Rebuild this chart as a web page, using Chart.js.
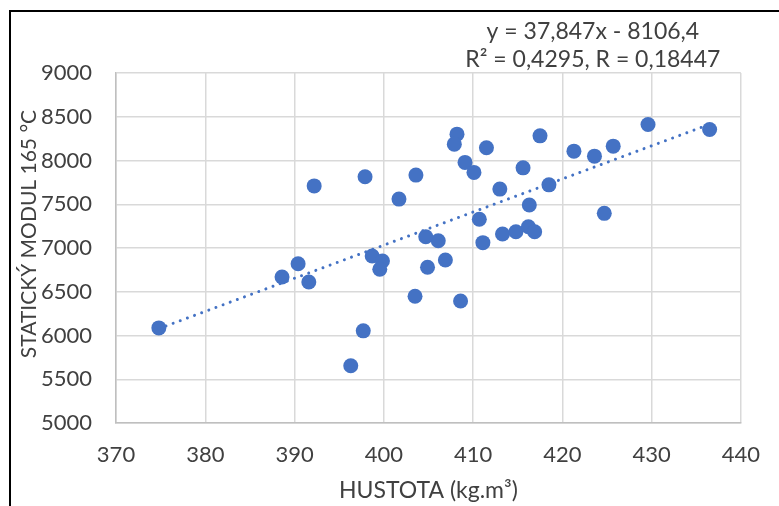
<!DOCTYPE html>
<html>
<head>
<meta charset="utf-8">
<script src="https://cdn.jsdelivr.net/npm/chart.js@4/dist/chart.umd.min.js"></script>
<style>
  html, body { margin: 0; padding: 0; background: #ffffff; overflow: hidden; }
  #wrap { position: relative; width: 779px; height: 506px; }
  #c { position: absolute; left: 0; top: 0; }
  #frame { position: absolute; left: 9px; top: 10px; width: 800px; height: 520px;
           border: 2px solid #000; box-sizing: border-box; pointer-events: none; }
</style>
</head>
<body>
<div id="wrap">
  <canvas id="c" width="779" height="506"></canvas>
  <div id="frame"></div>
</div>
<script>
// ---- data ----
const density = [374.8, 388.6, 390.4, 391.6, 392.2, 397.9, 401.7, 403.6, 408.2, 407.9,
                 411.5, 417.5, 409.1, 410.1, 415.6, 413.0, 418.5, 416.3, 410.7, 411.1,
                 413.3, 414.8, 416.2, 416.9, 408.6, 406.9, 404.9, 406.1, 404.7, 398.7,
                 399.85, 399.55, 403.5, 397.7, 396.3, 429.6, 436.5, 425.7, 423.6, 421.3, 424.7];
const modulus = [6087, 6669, 6820, 6612, 7710, 7814, 7559, 7833, 8301, 8187,
                 8145, 8282, 7978, 7864, 7916, 7673, 7722, 7491, 7328, 7061,
                 7160, 7186, 7243, 7186, 6395, 6863, 6780, 7083, 7129, 6909,
                 6852, 6757, 6449, 6053, 5654, 8412, 8355, 8164, 8050, 8107, 7396];
const trendSlope = 37.847;
const trendIntercept = -8106.4;
const trendX = [374.8, 436.5];
const trendLabels = ['y = 37,847x - 8106,4', 'R² = 0,4295, R = 0,18447'];
const xTicks = [370, 380, 390, 400, 410, 420, 430, 440];
const yTicks = [5000, 5500, 6000, 6500, 7000, 7500, 8000, 8500, 9000];
const xTitle = 'HUSTOTA (kg.m³)';
const yTitle = 'STATICKÝ MODUL 165 °C';

const blue = '#4472C4';
const textCol = '#404040';
const FONT = 'Lato, "Open Sans", sans-serif';

const points = density.map((x, i) => ({ x: x, y: modulus[i] }));
const trendPts = trendX.map(x => ({ x: x, y: trendSlope * x + trendIntercept }));

const textPlugin = {
  id: 'extraText',
  afterDraw(chart) {
    const ctx = chart.ctx;
    const a = chart.chartArea;
    ctx.save();
    ctx.fillStyle = textCol;
    ctx.font = '23px ' + FONT;
    ctx.textAlign = 'center';
    ctx.textBaseline = 'middle';
    const cx = a.right - 148;
    ctx.fillText(trendLabels[0], cx, a.top - 41);
    ctx.fillText(trendLabels[1], cx, a.top - 13);
    // y-axis title
    ctx.font = '21px ' + FONT;
    ctx.translate(29, a.top + (a.bottom - a.top) / 2 - 14);
    ctx.rotate(-Math.PI / 2);
    ctx.fillText(yTitle, 0, 0);
    ctx.restore();
  }
};

new Chart(document.getElementById('c'), {
  type: 'scatter',
  data: {
    datasets: [
      {
        label: 'trend',
        type: 'line',
        data: trendPts,
        borderColor: blue,
        borderWidth: 3,
        borderDash: [0.01, 7.6],
        borderCapStyle: 'round',
        pointRadius: 0,
        fill: false,
        order: 0
      },
      {
        label: 'data',
        data: points,
        backgroundColor: blue,
        borderColor: blue,
        borderWidth: 0,
        pointRadius: 7.5,
        pointHoverRadius: 7.5,
        order: 1
      }
    ]
  },
  options: {
    responsive: false,
    animation: false,
    events: [],
    layout: { padding: { top: 73, right: 23, left: 0, bottom: 0 } },
    plugins: { legend: { display: false }, tooltip: { enabled: false } },
    scales: {
      x: {
        type: 'linear',
        min: xTicks[0], max: xTicks[xTicks.length - 1],
        afterBuildTicks(s) { s.ticks = xTicks.map(v => ({ value: v })); },
        afterFit(s) { s.height = 83; },
        grid: { color: '#d9d9d9', lineWidth: 1.5, drawTicks: false },
        border: { color: '#bfbfbf', width: 1.5 },
        ticks: { color: textCol, font: { family: FONT, size: 22 }, padding: 19, maxRotation: 0,
                 callback: v => String(v) },
        title: { display: true, text: xTitle, color: textCol, font: { family: FONT, size: 23 }, padding: { top: 0, bottom: 2 } }
      },
      y: {
        type: 'linear',
        min: yTicks[0], max: yTicks[yTicks.length - 1],
        afterBuildTicks(s) { s.ticks = yTicks.map(v => ({ value: v })); },
        afterFit(s) { s.width = 116; },
        grid: { color: '#d9d9d9', lineWidth: 1.5, drawTicks: false },
        border: { color: '#bfbfbf', width: 1.5 },
        ticks: { color: textCol, font: { family: FONT, size: 22 }, padding: 24,
                 callback: v => String(v) }
      }
    }
  },
  plugins: [textPlugin]
});
</script>
</body>
</html>
